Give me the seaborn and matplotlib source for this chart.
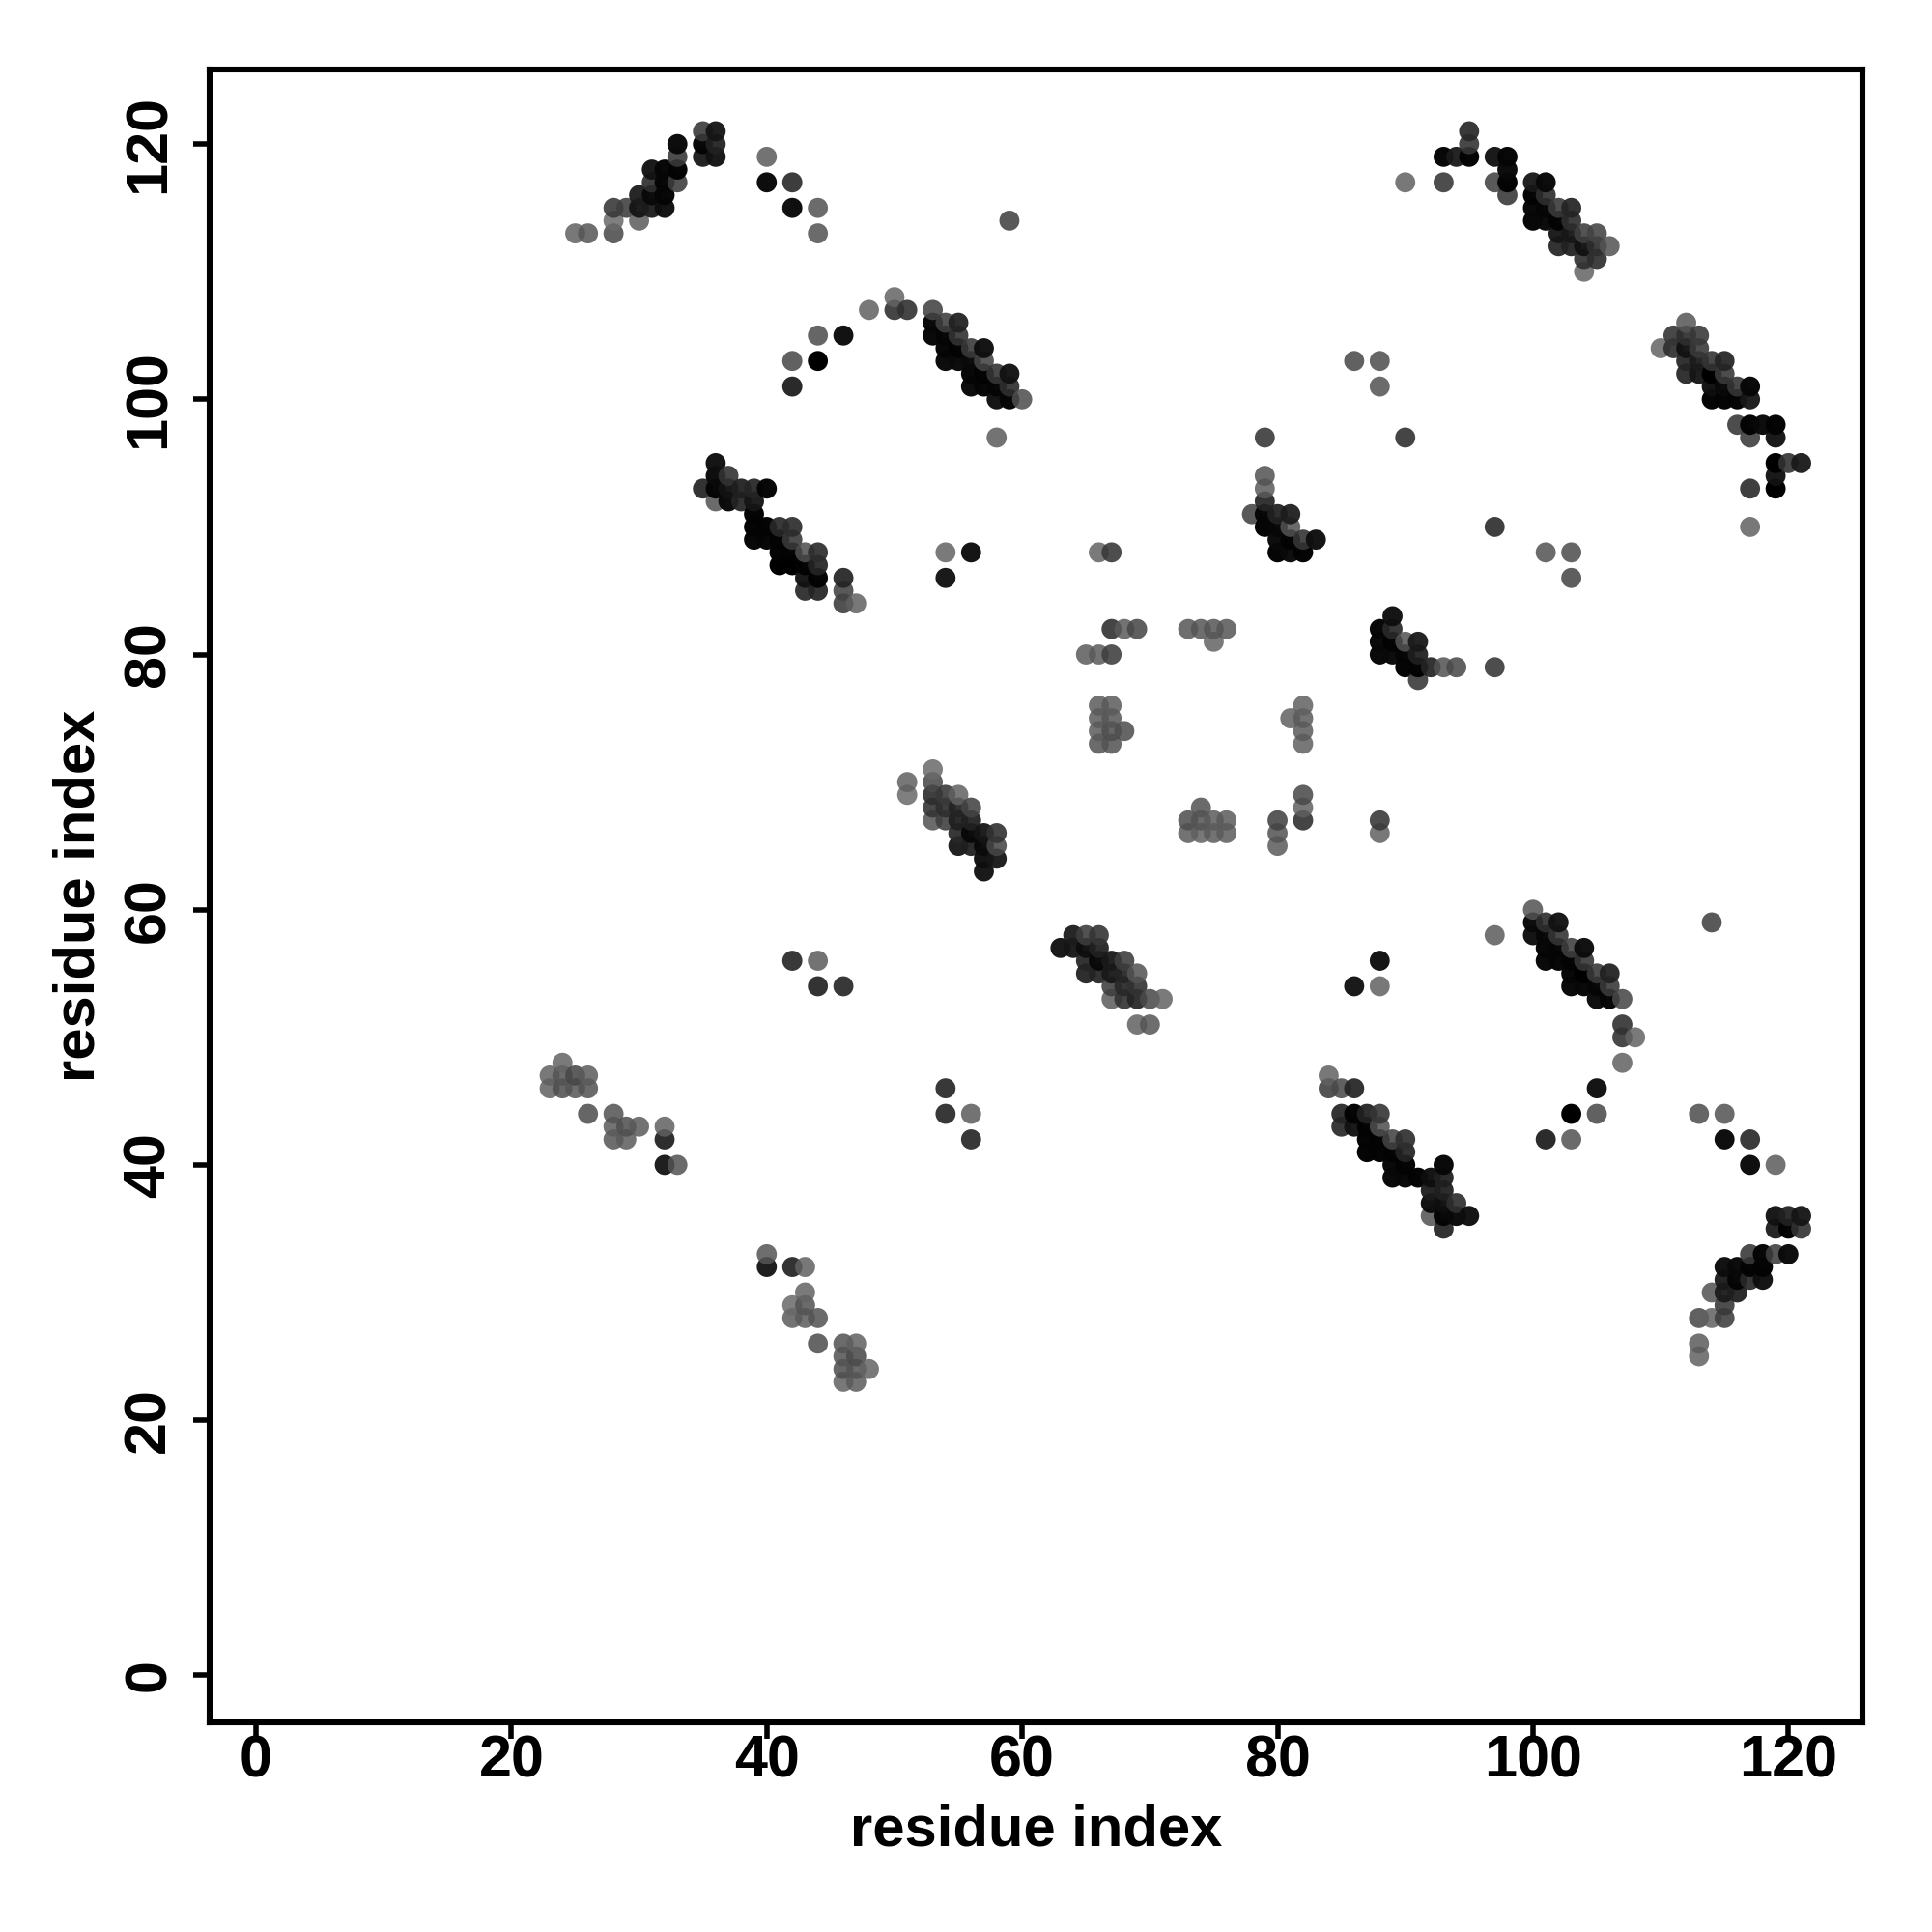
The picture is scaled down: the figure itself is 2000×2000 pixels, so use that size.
import matplotlib
matplotlib.use("Agg")
import matplotlib.pyplot as plt
import pandas as pd
import seaborn as sns

# (residue x, residue y, observed gray level 0=black .. 0.5=mid gray)
top_left = [(35,121,.3),(36,121,.12),(35,120,.03),(36,120,.18),(35,119,.14),(36,119,.1),(33,120,.05),(33,119,.3),(33,118,.02),(33,117,.32),
 (31,118,.1),(32,118,.03),(31,117,.25),(32,117,.03),(30,116,.15),(31,116,.05),(32,116,.03),(28,115,.3),(29,115,.33),(30,115,.12),(31,115,.15),(32,115,.08),
 (28,114,.5),(30,114,.45),(25,113,.47),(26,113,.43),(28,113,.38),(40,119,.45),(40,117,.05),(42,117,.24),(42,115,.06),(44,115,.42),(44,113,.42),(59,114,.35)]
upper_arc = [(50,108,.48),(48,107,.47),(50,107,.27),(51,107,.27),(53,107,.35),(44,105,.4),(46,105,.07),(42,103,.38),(44,103,.0),(42,101,.16),
 (53,106,.04),(53,105,.04),(54,106,.33),(55,106,.18),(55,105,.27),(54,105,.03),(54,104,.03),(55,104,.02),(54,103,.05),(55,103,.05),(56,104,.3),(57,104,.08),
 (57,103,.35),(56,103,.05),(56,102,.03),(56,101,.05),(57,102,.02),(57,101,.03),(58,102,.28),(59,102,.1),(59,101,.25),(60,100,.4),(58,100,.08),(59,100,.03),(58,101,.03),(58,97,.45)]
top_right = [(95,121,.22),(95,120,.28),(93,119,.03),(94,119,.14),(95,119,.02),(97,119,.1),(98,119,.03),(98,118,.05),(97,117,.35),(98,117,.02),(98,116,.3),(93,117,.3),(90,117,.47),
 (100,117,.13),(101,117,.05),(100,116,.02),(101,116,.25),(100,115,.04),(101,115,.03),(102,115,.3),(103,115,.2),(100,114,.03),(101,114,.05),(102,114,.02),(103,114,.25),
 (102,113,.12),(103,113,.13),(104,113,.33),(105,113,.35),(102,112,.2),(103,112,.18),(104,112,.1),(105,112,.25),(106,112,.42),(104,111,.26),(105,111,.25),(104,110,.48)]
right_band = [(112,106,.43),(111,105,.28),(112,105,.25),(113,105,.3),(110,104,.48),(111,104,.25),(112,104,.1),(113,104,.3),(112,103,.2),(113,103,.15),(114,103,.28),(115,103,.2),
 (112,102,.2),(113,102,.12),(114,102,.0),(115,102,.3),(114,101,.08),(115,101,.05),(116,101,.28),(117,101,.04),(114,100,.02),(115,100,.02),(116,100,.02),(117,100,.13),
 (116,98,.3),(117,98,.02),(118,98,.05),(119,98,.02),(117,97,.32),(119,97,.1),(119,95,.0),(120,95,.27),(121,95,.14),(119,94,.1),(117,93,.25),(119,93,.0),(117,90,.47)]
sparse_upper = [(86,103,.38),(88,103,.4),(88,101,.42),(79,97,.3),(90,97,.27),(97,90,.25),(101,88,.42),(103,88,.4),(103,86,.37),(54,88,.48),(56,88,.08),(54,86,.1),(66,88,.48),(67,88,.3)]
mid_left = [(36,95,.08),(36,94,.06),(37,94,.27),(35,93,.2),(36,93,.03),(37,93,.1),(38,93,.17),(39,93,.2),(40,93,.03),(36,92,.42),(37,92,.05),(38,92,.2),(39,92,.12),
 (39,91,.02),(39,90,.02),(40,90,.02),(41,90,.22),(42,90,.24),(39,89,.03),(40,89,.03),(41,89,.02),(42,89,.3),(41,88,.02),(42,88,.02),(43,88,.4),(44,88,.24),
 (41,87,.0),(42,87,.0),(43,87,.02),(44,87,.2),(43,86,.1),(44,86,.02),(43,85,.22),(44,85,.2),(46,86,.2),(46,85,.35),(46,84,.32),(47,84,.47)]
center_gray = [(67,82,.27),(68,82,.45),(69,82,.37),(65,80,.45),(66,80,.45),(67,80,.33),(66,76,.45),(67,76,.45),(66,75,.45),(67,75,.43),(66,74,.45),(67,74,.4),(68,74,.4),(66,73,.42),(67,73,.42),
 (73,82,.43),(74,82,.43),(75,82,.43),(76,82,.43),(75,81,.48),(82,76,.47),(81,75,.47),(82,75,.45),(82,74,.45),(82,73,.47),
 (74,68,.42),(73,67,.4),(74,67,.42),(75,67,.45),(76,67,.45),(73,66,.45),(74,66,.47),(75,66,.45),(76,66,.45),(80,67,.35),(80,66,.42),(80,65,.45),(82,69,.38),(82,68,.47),(82,67,.27),(88,67,.3),(88,66,.47)]
patch_79 = [(79,94,.42),(79,93,.45),(79,92,.2),(78,91,.35),(79,91,.03),(80,91,.18),(81,91,.16),(79,90,.02),(80,90,.04),(81,90,.42),(80,89,.05),(81,89,.02),(82,89,.28),(83,89,.08),(80,88,.02),(81,88,.06),(82,88,.02)]
patch_88 = [(89,83,.08),(88,82,.03),(89,82,.22),(88,81,.04),(89,81,.02),(90,81,.42),(91,81,.14),(88,80,.04),(89,80,.05),(90,80,.03),(91,80,.17),(90,79,.02),(91,79,.02),(92,79,.2),(93,79,.42),(94,79,.38),(97,79,.3),(91,78,.3)]
patch_53 = [(51,70,.47),(51,69,.5),(53,71,.5),(53,70,.38),(53,69,.25),(54,69,.3),(55,69,.47),(53,68,.28),(54,68,.25),(55,68,.2),(56,68,.35),(53,67,.42),(54,67,.33),(55,67,.17),(56,67,.18),
 (55,66,.22),(56,66,.05),(57,66,.12),(58,66,.27),(55,65,.13),(56,65,.17),(57,65,.06),(58,65,.36),(57,64,.08),(58,64,.13),(57,63,.1)]
patch_63 = [(64,58,.15),(65,58,.32),(66,58,.28),(63,57,.1),(64,57,.12),(65,57,.08),(66,57,.18),(65,56,.2),(66,56,.05),(67,56,.14),(68,56,.32),(65,55,.18),(66,55,.2),(67,55,.14),(68,55,.2),(69,55,.42),
 (67,54,.33),(68,54,.22),(69,54,.27),(67,53,.45),(68,53,.27),(69,53,.2),(70,53,.38),(71,53,.48),(69,51,.47),(70,51,.43)]
lower_arc = [(88,56,.08),(86,54,.1),(88,54,.47),(97,58,.45),(100,60,.42),(114,59,.35),(100,59,.05),(101,59,.25),(102,59,.1),(100,58,.08),(101,58,.04),(102,58,.28),(101,57,.03),(102,57,.03),(103,57,.33),(104,57,.07),
 (101,56,.04),(102,56,.03),(103,56,.02),(104,56,.28),(103,55,.03),(104,55,.0),(105,55,.3),(106,55,.18),(103,54,.04),(104,54,.04),(105,54,.03),(106,54,.3),(105,53,.06),(106,53,.03),(107,53,.37),
 (107,51,.27),(107,50,.28),(108,50,.48),(107,48,.47),(103,44,.0),(105,46,.08),(105,44,.38),(101,42,.17),(103,42,.42),(113,44,.4),(115,44,.42),(115,42,.06),(117,42,.23),(117,40,.06),(119,40,.45)]
band_84 = [(84,47,.47),(84,46,.33),(85,46,.38),(86,46,.2),(85,44,.2),(86,44,.02),(87,44,.18),(88,44,.28),(85,43,.22),(86,43,.1),(87,43,.02),(88,43,.4),(87,42,.02),(88,42,.02),(89,42,.35),(90,42,.25),
 (87,41,.02),(88,41,.02),(89,41,.02),(90,41,.2),(89,40,.04),(90,40,.02),(89,39,.04),(90,39,.04),(91,39,.02),(92,39,.08),(93,40,.04),(93,39,.17),(92,38,.15),(93,38,.17),(92,37,.07),(93,37,.08),(94,37,.25),
 (92,36,.42),(93,36,.03),(94,36,.05),(95,36,.08),(93,35,.2)]
left_lower = [(42,56,.22),(44,56,.45),(44,54,.2),(46,54,.22),(24,48,.48),(23,47,.47),(24,47,.42),(25,47,.36),(26,47,.45),(23,46,.47),(24,46,.4),(25,46,.43),(26,46,.42),(26,44,.4),(28,44,.42),
 (28,43,.45),(29,43,.4),(30,43,.45),(28,42,.43),(29,42,.45),(32,43,.47),(32,42,.18),(32,40,.12),(33,40,.42),(54,46,.22),(54,44,.22),(56,44,.45),(56,42,.22),
 (40,33,.43),(40,32,.12),(42,32,.2),(43,32,.47),(43,30,.48),(42,29,.5),(43,29,.42),(42,28,.45),(43,28,.45),(44,28,.42),(44,26,.4),
 (46,26,.42),(47,26,.47),(46,25,.42),(47,25,.38),(46,24,.4),(47,24,.42),(48,24,.48),(46,23,.47),(47,23,.45)]
bottom_right = [(119,36,.1),(120,36,.18),(121,36,.12),(119,35,.15),(120,35,.02),(121,35,.27),(117,33,.3),(118,33,.03),(119,33,.33),(120,33,.06),(115,32,.07),(116,32,.05),(117,32,.02),(118,32,.02),
 (115,31,.14),(116,31,.03),(117,31,.22),(118,31,.08),(114,30,.42),(115,30,.15),(116,30,.17),(115,29,.3),(113,28,.38),(114,28,.47),(115,28,.33),(113,26,.45),(113,25,.47)]

tick_values = [0, 20, 40, 60, 80, 100, 120]
axis_title = "residue index"

clusters = [top_left, upper_arc, top_right, right_band, sparse_upper, mid_left, center_gray, patch_79,
            patch_88, patch_53, patch_63, lower_arc, band_84, left_lower, bottom_right]
df = pd.DataFrame([p for c in clusters for p in c], columns=["x", "y", "gray"])
df = df.drop_duplicates(["x", "y"]).sort_values(["x", "y"]).reset_index(drop=True)

def shade(obs):
    a = 1 - 0.15 * min(obs / 0.45, 1)
    g = max((obs - (1 - a)) / a, 0)
    return (g, g, g, a)

df["level"] = df["gray"].astype(str)
pal = {str(g): shade(g) for g in df["gray"].unique()}

sns.set_theme(style="white")
plt.rcParams["font.family"] = ["Liberation Sans", "DejaVu Sans"]
plt.rcParams["font.weight"] = "bold"

fig = plt.figure(figsize=(10, 10), dpi=200)
ax = fig.add_axes([217/2000, 1 - 1783/2000, (1928-217)/2000, (1783-72)/2000])
sns.scatterplot(data=df, x="x", y="y", hue="level", palette=pal, s=56, linewidth=0,
                legend=False, ax=ax, clip_on=True)
ax.set_xlim(-3.63, 125.8)
ax.set_ylim(-3.69, 125.84)
ax.set_xticks(tick_values)
ax.set_yticks(tick_values)
ax.tick_params(axis="both", which="major", length=6, width=2.0, color="black", labelcolor="black",
               labelsize=22, bottom=True, left=True)
ax.tick_params(axis="x", pad=-1.5)
ax.tick_params(axis="y", pad=6)
for lab in ax.get_yticklabels():
    lab.set_rotation(90)
    lab.set_va("center")
for lab in ax.get_xticklabels() + ax.get_yticklabels():
    lab.set_fontweight("bold")
ax.set_xlabel(axis_title, fontsize=21.5, fontweight="bold", color="black", labelpad=5.5)
ax.set_ylabel(axis_title, fontsize=21.5, fontweight="bold", color="black", labelpad=6)
for s in ax.spines.values():
    s.set_visible(True)
    s.set_color("black")
    s.set_linewidth(2.2)
fig.savefig("out.png", dpi=200, facecolor="white")
